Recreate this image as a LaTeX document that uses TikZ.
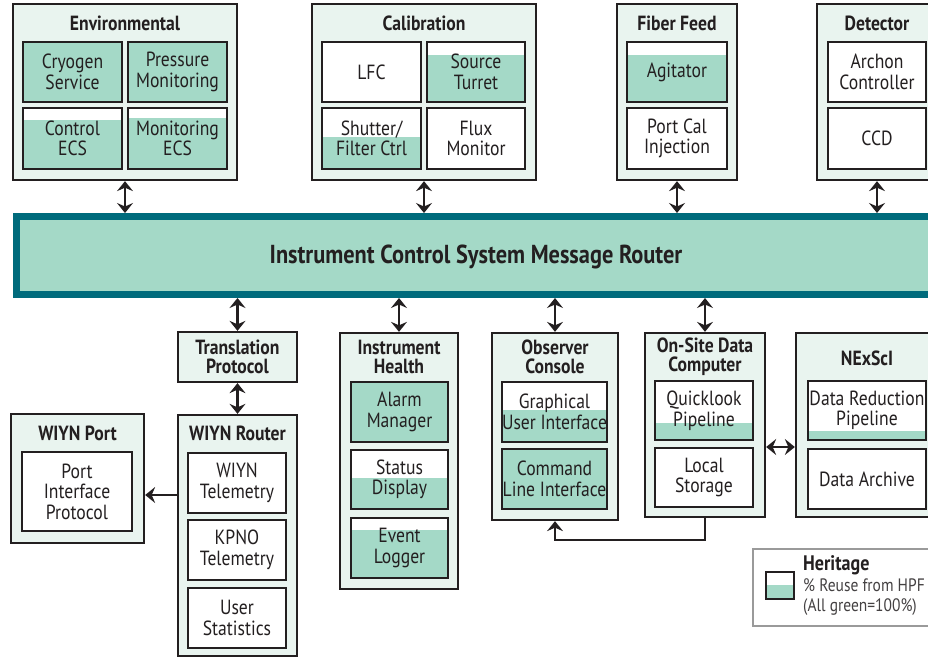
\documentclass[tikz,border=0pt]{standalone}
\usepackage{fontspec}
\setmainfont{PT Sans}[FakeStretch=0.86]
\usetikzlibrary{arrows.meta,fit}
\definecolor{reuse}{HTML}{A4D9C7}
\definecolor{panel}{HTML}{E9F4EF}
\definecolor{busteal}{HTML}{006B7C}
\definecolor{ink}{HTML}{231F20}
\definecolor{legendgray}{HTML}{9A9A9A}

\tikzset{
  group/.style={draw=ink, line width=2.3pt, fill=panel, inner sep=0pt, outer sep=1.15pt},
  leaf/.style={draw=ink, line width=2.6pt, inner sep=0pt, outer sep=1.3pt},
  leaftext/.style={align=center, text=ink, inner sep=0pt, font=\fontsize{20.5}{20.5}\selectfont},
  grouptitle/.style={font=\bfseries\fontsize{20.5}{19}\selectfont, align=center, text=ink, inner sep=0pt},
  tip/.tip={Stealth[length=10pt,width=16pt,inset=3.5pt]},
  both/.style={draw=ink, line width=2.4pt, tip-tip},
  tohead/.style={draw=ink, line width=2.4pt, -tip},
}

% container box from corner to corner
\newcommand\grpbox[5]{\node[group, fit={(#2,#3) (#4,#5)}] (#1) {};}
% component box: name, corners, top of the green (reuse) part, label
\newcommand\partbox[7]{%
  \fill[white] (#2,#3) rectangle (#4,#5);
  \fill[reuse] (#2,#6) rectangle (#4,#5);
  \node[leaf, fit={(#2,#3) (#4,#5)}] (#1) {};
  \node[leaftext] (#1T) at (#1.center) {#7};}

\begin{document}
\begin{tikzpicture}[x=1pt, y=-1pt]
\path[use as bounding box] (0,0) rectangle (928,658);
\clip (0,0) rectangle (928,658);

% ---------- upper subsystems ----------
\grpbox{env}{13}{4}{237}{180}
\node[grouptitle] (envT) at (125,23) {Environmental};
\partbox{cryo}{23}{42}{122}{102}{42}{Cryogen\\Service}
\partbox{press}{128}{42}{227}{102}{42}{Pressure\\Monitoring}
\partbox{ctrl}{23}{108}{122}{169}{120}{Control\\ECS}
\partbox{monecs}{128}{108}{227}{169}{118}{Monitoring\\ECS}

\grpbox{cal}{312}{4}{536}{180}
\node[grouptitle] (calT) at (424,23) {Calibration};
\partbox{lfc}{322}{42}{421}{102}{102}{LFC}
\partbox{src}{427}{42}{525}{102}{55}{Source\\Turret}
\partbox{shut}{322}{108}{421}{169}{137}{Shutter/\\Filter Ctrl}
\partbox{flux}{427}{108}{525}{169}{169}{Flux\\Monitor}

\grpbox{fiber}{617}{4}{737}{180}
\node[grouptitle] (fiberT) at (677,23) {Fiber Feed};
\partbox{agit}{627}{42}{727}{102}{55}{Agitator}
\partbox{portcal}{627}{108}{727}{169}{169}{Port Cal\\Injection}

\grpbox{det}{817}{4}{937}{180}
\node[grouptitle] (detT) at (877,23) {Detector};
\partbox{archon}{828}{42}{926}{102}{102}{Archon\\Controller}
\partbox{ccd}{828}{108}{926}{169}{169}{CCD}

% ---------- message router ----------
\node[draw=busteal, line width=7pt, fill=reuse, inner sep=0pt, outer sep=3.5pt,
      fit={(16.5,216.5) (960,294.5)}] (router) {};
\node[font=\bfseries\fontsize{26}{30}\selectfont, text=ink, inner sep=0pt] (routerT) at (476,257)
  {Instrument Control System Message Router};

\draw[both] (env.south) -- (env.south |- router.north);
\draw[both] (cal.south) -- (cal.south |- router.north);
\draw[both] (fiber.south) -- (fiber.south |- router.north);
\draw[both] (det.south) -- (det.south |- router.north);

% ---------- lower subsystems ----------
\grpbox{trans}{178}{332}{297}{382}
\node[grouptitle] (transT) at (237.5,357) {Translation\\Protocol};

\grpbox{wrouter}{178}{415}{297}{656}
\node[grouptitle] (wrouterT) at (237.5,433) {WIYN Router};
\partbox{wtel}{188}{453}{286}{513}{513}{WIYN\\Telemetry}
\partbox{kpno}{188}{520}{286}{580}{580}{KPNO\\Telemetry}
\partbox{ustat}{188}{588}{286}{648}{648}{User\\Statistics}

\grpbox{wport}{11}{414}{144}{543}
\node[grouptitle] (wportT) at (77.5,433) {WIYN Port};
\partbox{pip}{22}{452}{132}{531}{531}{Port\\Interface\\Protocol}

\grpbox{health}{340}{333}{458}{589}
\node[grouptitle] (healthT) at (399,357) {Instrument\\Health};
\partbox{alarm}{351}{382}{448}{442}{382}{Alarm\\Manager}
\partbox{status}{351}{450}{448}{509}{478}{Status\\Display}
\partbox{event}{351}{518}{448}{578}{530}{Event\\Logger}

\grpbox{obs}{492}{333}{618}{520}
\node[grouptitle] (obsT) at (555,357) {Observer\\Console};
\partbox{gui}{502}{382}{607}{442}{410}{Graphical\\User Interface}
\partbox{cli}{502}{449}{607}{509}{449}{Command\\Line Interface}

\grpbox{onsite}{645}{333}{765}{517}
\node[grouptitle] (onsiteT) at (705,357) {On-Site Data\\Computer};
\partbox{quick}{655}{381}{753}{440}{423}{Quicklook\\Pipeline}
\partbox{local}{655}{448}{753}{507}{507}{Local\\Storage}

\grpbox{nexsci}{796}{333}{938}{517}
\node[grouptitle] (nexsciT) at (867,358) {NExScI};
\partbox{drp}{808}{381}{926}{440}{431}{Data Reduction\\Pipeline}
\partbox{archive}{808}{449}{926}{509}{509}{Data Archive}

% ---------- connectors ----------
\draw[both] (trans.north) -- (trans.north |- router.south);
\draw[both] (health.north) -- (health.north |- router.south);
\draw[both] (obs.north) -- (obs.north |- router.south);
\draw[both] (onsite.north) -- (onsite.north |- router.south);
\draw[both] (trans.south) -- (wrouter.north);

\coordinate (portlink) at (178,495);
\draw[tohead] (wrouter.west |- portlink) -- (wport.east |- portlink);

\coordinate (archlink) at (765,447);
\draw[both] (onsite.east |- archlink) -- (nexsci.west |- archlink);

\coordinate (consolebend) at (555,540);
\draw[tohead] (onsite.south) |- (consolebend) -- (obs.south);

% ---------- legend ----------
\node[draw=legendgray, line width=1.5pt, fill=white, inner sep=0pt,
      fit={(753,549) (960,626)}] (legend) {};
\fill[white] (766,572) rectangle (794,599);
\fill[reuse] (766,585) rectangle (794,599);
\node[leaf, fit={(766,572) (794,599)}] (swatch) {};
\node[anchor=base west, inner sep=0pt, text=ink,
      font=\bfseries\fontsize{21}{20}\selectfont] (legT1) at (803,570) {Heritage};
\node[anchor=base west, inner sep=0pt, text=ink!85,
      font=\fontsize{18}{20}\selectfont] (legT2) at (803,591) {\% Reuse from HPF};
\node[anchor=base west, inner sep=0pt, text=ink!85,
      font=\fontsize{18}{20}\selectfont] (legT3) at (803,611) {(All green=100\%)};
\end{tikzpicture}
\end{document}
